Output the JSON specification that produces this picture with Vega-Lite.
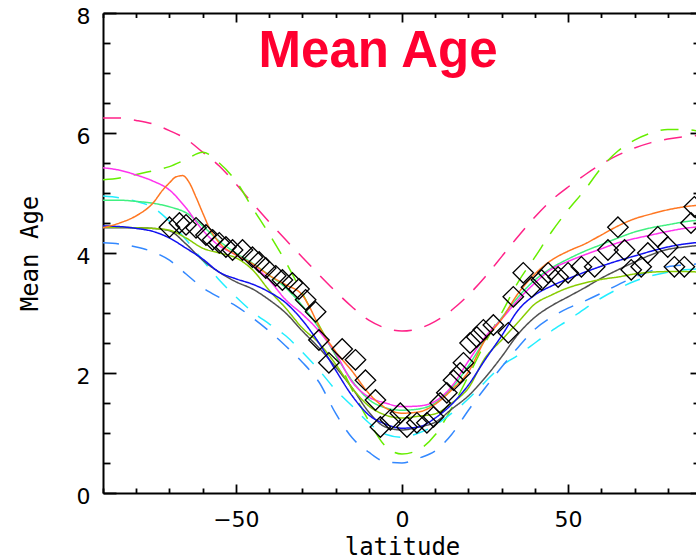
{
"$schema": "https://vega.github.io/schema/vega-lite/v6.json",
"width": 593, "height": 480,
"autosize": {"type": "none"},
"padding": {"left": 103, "top": 13, "right": 0, "bottom": 66},
"background": "white",
"config": {"view": {"stroke": null}, "axis": {"grid": false, "domainColor": "black", "tickColor": "black", "labelColor": "black", "titleColor": "black", "domainWidth": 2, "tickWidth": 1.8, "labelOverlap": false, "labelFlush": false, "labelBound": false}},
"datasets": {
"lines": [
{"s":"pd","lat":-90,"v":6.25},{"s":"pd","lat":-85,"v":6.25},{"s":"pd","lat":-80,"v":6.21},{"s":"pd","lat":-75,"v":6.15},{"s":"pd","lat":-70,"v":6.04},{"s":"pd","lat":-65,"v":5.9},{"s":"pd","lat":-60,"v":5.68},{"s":"pd","lat":-55,"v":5.45},{"s":"pd","lat":-50,"v":5.15},{"s":"pd","lat":-45,"v":4.83},{"s":"pd","lat":-40,"v":4.52},{"s":"pd","lat":-35,"v":4.22},{"s":"pd","lat":-30,"v":3.93},{"s":"pd","lat":-25,"v":3.64},{"s":"pd","lat":-20,"v":3.36},{"s":"pd","lat":-15,"v":3.1},{"s":"pd","lat":-10,"v":2.88},{"s":"pd","lat":-5,"v":2.75},{"s":"pd","lat":0,"v":2.7},{"s":"pd","lat":5,"v":2.74},{"s":"pd","lat":10,"v":2.86},{"s":"pd","lat":15,"v":3.05},{"s":"pd","lat":20,"v":3.3},{"s":"pd","lat":25,"v":3.6},{"s":"pd","lat":30,"v":3.94},{"s":"pd","lat":35,"v":4.28},{"s":"pd","lat":40,"v":4.6},{"s":"pd","lat":45,"v":4.88},{"s":"pd","lat":50,"v":5.1},{"s":"pd","lat":55,"v":5.3},{"s":"pd","lat":60,"v":5.48},{"s":"pd","lat":65,"v":5.63},{"s":"pd","lat":70,"v":5.75},{"s":"pd","lat":75,"v":5.84},{"s":"pd","lat":80,"v":5.9},{"s":"pd","lat":85,"v":5.94},{"s":"pd","lat":90,"v":5.96},
{"s":"gd","lat":-90,"v":5.22},{"s":"gd","lat":-85,"v":5.25},{"s":"gd","lat":-80,"v":5.31},{"s":"gd","lat":-75,"v":5.37},{"s":"gd","lat":-70,"v":5.44},{"s":"gd","lat":-65,"v":5.56},{"s":"gd","lat":-60,"v":5.68},{"s":"gd","lat":-55,"v":5.5},{"s":"gd","lat":-50,"v":5.2},{"s":"gd","lat":-45,"v":4.75},{"s":"gd","lat":-40,"v":4.32},{"s":"gd","lat":-35,"v":3.85},{"s":"gd","lat":-30,"v":3.33},{"s":"gd","lat":-25,"v":2.8},{"s":"gd","lat":-20,"v":2.3},{"s":"gd","lat":-15,"v":1.72},{"s":"gd","lat":-10,"v":1.2},{"s":"gd","lat":-5,"v":0.78},{"s":"gd","lat":0,"v":0.65},{"s":"gd","lat":5,"v":0.72},{"s":"gd","lat":10,"v":0.97},{"s":"gd","lat":15,"v":1.42},{"s":"gd","lat":20,"v":1.95},{"s":"gd","lat":25,"v":2.5},{"s":"gd","lat":30,"v":3.0},{"s":"gd","lat":35,"v":3.52},{"s":"gd","lat":40,"v":3.93},{"s":"gd","lat":45,"v":4.35},{"s":"gd","lat":50,"v":4.72},{"s":"gd","lat":55,"v":5.05},{"s":"gd","lat":60,"v":5.42},{"s":"gd","lat":65,"v":5.7},{"s":"gd","lat":70,"v":5.88},{"s":"gd","lat":75,"v":6.0},{"s":"gd","lat":80,"v":6.06},{"s":"gd","lat":85,"v":6.06},{"s":"gd","lat":90,"v":6.02},
{"s":"cd","lat":-90,"v":4.95},{"s":"cd","lat":-85,"v":4.92},{"s":"cd","lat":-80,"v":4.86},{"s":"cd","lat":-75,"v":4.76},{"s":"cd","lat":-70,"v":4.53},{"s":"cd","lat":-65,"v":4.22},{"s":"cd","lat":-60,"v":3.88},{"s":"cd","lat":-55,"v":3.55},{"s":"cd","lat":-50,"v":3.27},{"s":"cd","lat":-45,"v":3.02},{"s":"cd","lat":-40,"v":2.82},{"s":"cd","lat":-35,"v":2.62},{"s":"cd","lat":-30,"v":2.35},{"s":"cd","lat":-25,"v":2.05},{"s":"cd","lat":-20,"v":1.72},{"s":"cd","lat":-15,"v":1.45},{"s":"cd","lat":-10,"v":1.17},{"s":"cd","lat":-5,"v":0.98},{"s":"cd","lat":0,"v":0.93},{"s":"cd","lat":5,"v":1.0},{"s":"cd","lat":10,"v":1.13},{"s":"cd","lat":15,"v":1.33},{"s":"cd","lat":20,"v":1.57},{"s":"cd","lat":25,"v":1.85},{"s":"cd","lat":30,"v":2.12},{"s":"cd","lat":35,"v":2.3},{"s":"cd","lat":40,"v":2.5},{"s":"cd","lat":45,"v":2.7},{"s":"cd","lat":50,"v":2.88},{"s":"cd","lat":55,"v":3.07},{"s":"cd","lat":60,"v":3.25},{"s":"cd","lat":65,"v":3.4},{"s":"cd","lat":70,"v":3.53},{"s":"cd","lat":75,"v":3.62},{"s":"cd","lat":80,"v":3.68},{"s":"cd","lat":85,"v":3.72},{"s":"cd","lat":90,"v":3.74},
{"s":"bd","lat":-90,"v":4.17},{"s":"bd","lat":-85,"v":4.15},{"s":"bd","lat":-80,"v":4.1},{"s":"bd","lat":-75,"v":4.02},{"s":"bd","lat":-70,"v":3.88},{"s":"bd","lat":-65,"v":3.65},{"s":"bd","lat":-60,"v":3.42},{"s":"bd","lat":-55,"v":3.26},{"s":"bd","lat":-50,"v":3.12},{"s":"bd","lat":-45,"v":2.92},{"s":"bd","lat":-40,"v":2.7},{"s":"bd","lat":-35,"v":2.45},{"s":"bd","lat":-30,"v":2.18},{"s":"bd","lat":-25,"v":1.85},{"s":"bd","lat":-20,"v":1.33},{"s":"bd","lat":-15,"v":0.92},{"s":"bd","lat":-10,"v":0.68},{"s":"bd","lat":-5,"v":0.52},{"s":"bd","lat":0,"v":0.5},{"s":"bd","lat":5,"v":0.58},{"s":"bd","lat":10,"v":0.7},{"s":"bd","lat":15,"v":0.98},{"s":"bd","lat":20,"v":1.38},{"s":"bd","lat":25,"v":1.75},{"s":"bd","lat":30,"v":2.1},{"s":"bd","lat":35,"v":2.43},{"s":"bd","lat":40,"v":2.73},{"s":"bd","lat":45,"v":2.93},{"s":"bd","lat":50,"v":3.08},{"s":"bd","lat":55,"v":3.2},{"s":"bd","lat":60,"v":3.33},{"s":"bd","lat":65,"v":3.47},{"s":"bd","lat":70,"v":3.6},{"s":"bd","lat":75,"v":3.7},{"s":"bd","lat":80,"v":3.77},{"s":"bd","lat":85,"v":3.8},{"s":"bd","lat":90,"v":3.82},
{"s":"gy","lat":-90,"v":4.42},{"s":"gy","lat":-85,"v":4.42},{"s":"gy","lat":-80,"v":4.42},{"s":"gy","lat":-75,"v":4.41},{"s":"gy","lat":-70,"v":4.37},{"s":"gy","lat":-65,"v":4.15},{"s":"gy","lat":-60,"v":3.88},{"s":"gy","lat":-55,"v":3.68},{"s":"gy","lat":-50,"v":3.52},{"s":"gy","lat":-45,"v":3.4},{"s":"gy","lat":-40,"v":3.22},{"s":"gy","lat":-35,"v":3.0},{"s":"gy","lat":-30,"v":2.7},{"s":"gy","lat":-25,"v":2.42},{"s":"gy","lat":-20,"v":2.1},{"s":"gy","lat":-15,"v":1.75},{"s":"gy","lat":-10,"v":1.35},{"s":"gy","lat":-5,"v":1.1},{"s":"gy","lat":0,"v":1.05},{"s":"gy","lat":5,"v":1.1},{"s":"gy","lat":10,"v":1.18},{"s":"gy","lat":15,"v":1.4},{"s":"gy","lat":20,"v":1.62},{"s":"gy","lat":25,"v":1.92},{"s":"gy","lat":30,"v":2.27},{"s":"gy","lat":35,"v":2.65},{"s":"gy","lat":40,"v":2.93},{"s":"gy","lat":45,"v":3.12},{"s":"gy","lat":50,"v":3.27},{"s":"gy","lat":55,"v":3.42},{"s":"gy","lat":60,"v":3.58},{"s":"gy","lat":65,"v":3.72},{"s":"gy","lat":70,"v":3.85},{"s":"gy","lat":75,"v":3.97},{"s":"gy","lat":80,"v":4.06},{"s":"gy","lat":85,"v":4.1},{"s":"gy","lat":90,"v":4.13},
{"s":"ol","lat":-90,"v":4.43},{"s":"ol","lat":-85,"v":4.43},{"s":"ol","lat":-80,"v":4.42},{"s":"ol","lat":-75,"v":4.41},{"s":"ol","lat":-70,"v":4.38},{"s":"ol","lat":-65,"v":4.25},{"s":"ol","lat":-60,"v":4.08},{"s":"ol","lat":-55,"v":4.0},{"s":"ol","lat":-50,"v":3.92},{"s":"ol","lat":-45,"v":3.72},{"s":"ol","lat":-40,"v":3.38},{"s":"ol","lat":-35,"v":3.08},{"s":"ol","lat":-30,"v":2.75},{"s":"ol","lat":-25,"v":2.5},{"s":"ol","lat":-20,"v":2.15},{"s":"ol","lat":-15,"v":1.75},{"s":"ol","lat":-10,"v":1.45},{"s":"ol","lat":-5,"v":1.3},{"s":"ol","lat":0,"v":1.25},{"s":"ol","lat":5,"v":1.28},{"s":"ol","lat":10,"v":1.32},{"s":"ol","lat":15,"v":1.5},{"s":"ol","lat":20,"v":1.75},{"s":"ol","lat":25,"v":2.25},{"s":"ol","lat":30,"v":2.55},{"s":"ol","lat":35,"v":2.85},{"s":"ol","lat":40,"v":3.15},{"s":"ol","lat":45,"v":3.3},{"s":"ol","lat":50,"v":3.42},{"s":"ol","lat":55,"v":3.5},{"s":"ol","lat":60,"v":3.56},{"s":"ol","lat":65,"v":3.6},{"s":"ol","lat":70,"v":3.65},{"s":"ol","lat":75,"v":3.68},{"s":"ol","lat":80,"v":3.69},{"s":"ol","lat":85,"v":3.69},{"s":"ol","lat":90,"v":3.68},
{"s":"bl","lat":-90,"v":4.45},{"s":"bl","lat":-85,"v":4.44},{"s":"bl","lat":-80,"v":4.41},{"s":"bl","lat":-75,"v":4.36},{"s":"bl","lat":-70,"v":4.25},{"s":"bl","lat":-65,"v":4.08},{"s":"bl","lat":-60,"v":3.9},{"s":"bl","lat":-55,"v":3.68},{"s":"bl","lat":-50,"v":3.57},{"s":"bl","lat":-45,"v":3.48},{"s":"bl","lat":-40,"v":3.35},{"s":"bl","lat":-35,"v":3.17},{"s":"bl","lat":-30,"v":2.88},{"s":"bl","lat":-25,"v":2.5},{"s":"bl","lat":-20,"v":2.05},{"s":"bl","lat":-15,"v":1.62},{"s":"bl","lat":-10,"v":1.3},{"s":"bl","lat":-5,"v":1.15},{"s":"bl","lat":0,"v":1.08},{"s":"bl","lat":5,"v":1.1},{"s":"bl","lat":10,"v":1.25},{"s":"bl","lat":15,"v":1.48},{"s":"bl","lat":20,"v":1.8},{"s":"bl","lat":25,"v":2.22},{"s":"bl","lat":30,"v":2.62},{"s":"bl","lat":35,"v":3.05},{"s":"bl","lat":40,"v":3.3},{"s":"bl","lat":45,"v":3.45},{"s":"bl","lat":50,"v":3.57},{"s":"bl","lat":55,"v":3.68},{"s":"bl","lat":60,"v":3.78},{"s":"bl","lat":65,"v":3.87},{"s":"bl","lat":70,"v":3.95},{"s":"bl","lat":75,"v":4.03},{"s":"bl","lat":80,"v":4.1},{"s":"bl","lat":85,"v":4.15},{"s":"bl","lat":90,"v":4.18},
{"s":"sg","lat":-90,"v":4.88},{"s":"sg","lat":-85,"v":4.88},{"s":"sg","lat":-80,"v":4.86},{"s":"sg","lat":-75,"v":4.83},{"s":"sg","lat":-70,"v":4.77},{"s":"sg","lat":-65,"v":4.67},{"s":"sg","lat":-60,"v":4.45},{"s":"sg","lat":-55,"v":4.2},{"s":"sg","lat":-50,"v":4.0},{"s":"sg","lat":-45,"v":3.83},{"s":"sg","lat":-40,"v":3.63},{"s":"sg","lat":-35,"v":3.42},{"s":"sg","lat":-30,"v":3.12},{"s":"sg","lat":-25,"v":2.75},{"s":"sg","lat":-20,"v":2.3},{"s":"sg","lat":-15,"v":1.87},{"s":"sg","lat":-10,"v":1.56},{"s":"sg","lat":-5,"v":1.42},{"s":"sg","lat":0,"v":1.38},{"s":"sg","lat":5,"v":1.4},{"s":"sg","lat":10,"v":1.5},{"s":"sg","lat":15,"v":1.75},{"s":"sg","lat":20,"v":2.12},{"s":"sg","lat":25,"v":2.55},{"s":"sg","lat":30,"v":2.92},{"s":"sg","lat":35,"v":3.27},{"s":"sg","lat":40,"v":3.55},{"s":"sg","lat":45,"v":3.75},{"s":"sg","lat":50,"v":3.9},{"s":"sg","lat":55,"v":4.03},{"s":"sg","lat":60,"v":4.14},{"s":"sg","lat":65,"v":4.25},{"s":"sg","lat":70,"v":4.35},{"s":"sg","lat":75,"v":4.42},{"s":"sg","lat":80,"v":4.47},{"s":"sg","lat":85,"v":4.52},{"s":"sg","lat":90,"v":4.55},
{"s":"mg","lat":-90,"v":5.42},{"s":"mg","lat":-85,"v":5.38},{"s":"mg","lat":-80,"v":5.3},{"s":"mg","lat":-75,"v":5.2},{"s":"mg","lat":-70,"v":5.05},{"s":"mg","lat":-65,"v":4.75},{"s":"mg","lat":-60,"v":4.38},{"s":"mg","lat":-55,"v":4.12},{"s":"mg","lat":-50,"v":3.97},{"s":"mg","lat":-45,"v":3.8},{"s":"mg","lat":-40,"v":3.55},{"s":"mg","lat":-35,"v":3.22},{"s":"mg","lat":-30,"v":2.98},{"s":"mg","lat":-25,"v":2.7},{"s":"mg","lat":-20,"v":2.33},{"s":"mg","lat":-15,"v":1.85},{"s":"mg","lat":-10,"v":1.6},{"s":"mg","lat":-5,"v":1.5},{"s":"mg","lat":0,"v":1.44},{"s":"mg","lat":5,"v":1.45},{"s":"mg","lat":10,"v":1.53},{"s":"mg","lat":15,"v":1.78},{"s":"mg","lat":20,"v":2.2},{"s":"mg","lat":25,"v":2.6},{"s":"mg","lat":30,"v":2.9},{"s":"mg","lat":35,"v":3.22},{"s":"mg","lat":40,"v":3.5},{"s":"mg","lat":45,"v":3.73},{"s":"mg","lat":50,"v":3.86},{"s":"mg","lat":55,"v":3.97},{"s":"mg","lat":60,"v":4.07},{"s":"mg","lat":65,"v":4.17},{"s":"mg","lat":70,"v":4.24},{"s":"mg","lat":75,"v":4.3},{"s":"mg","lat":80,"v":4.36},{"s":"mg","lat":85,"v":4.41},{"s":"mg","lat":90,"v":4.44},
{"s":"or","lat":-90,"v":4.42},{"s":"or","lat":-85,"v":4.5},{"s":"or","lat":-80,"v":4.62},{"s":"or","lat":-75,"v":4.83},{"s":"or","lat":-72,"v":5.05},{"s":"or","lat":-70,"v":5.17},{"s":"or","lat":-68,"v":5.27},{"s":"or","lat":-66,"v":5.29},{"s":"or","lat":-64,"v":5.17},{"s":"or","lat":-62,"v":4.93},{"s":"or","lat":-60,"v":4.67},{"s":"or","lat":-58,"v":4.42},{"s":"or","lat":-55,"v":4.17},{"s":"or","lat":-50,"v":3.97},{"s":"or","lat":-45,"v":3.82},{"s":"or","lat":-40,"v":3.63},{"s":"or","lat":-35,"v":3.47},{"s":"or","lat":-30,"v":3.3},{"s":"or","lat":-28,"v":3.12},{"s":"or","lat":-25,"v":2.78},{"s":"or","lat":-20,"v":2.36},{"s":"or","lat":-15,"v":2.03},{"s":"or","lat":-10,"v":1.66},{"s":"or","lat":-5,"v":1.42},{"s":"or","lat":0,"v":1.33},{"s":"or","lat":5,"v":1.35},{"s":"or","lat":10,"v":1.48},{"s":"or","lat":15,"v":1.72},{"s":"or","lat":20,"v":2.02},{"s":"or","lat":25,"v":2.55},{"s":"or","lat":30,"v":2.9},{"s":"or","lat":35,"v":3.33},{"s":"or","lat":40,"v":3.65},{"s":"or","lat":45,"v":3.88},{"s":"or","lat":50,"v":4.03},{"s":"or","lat":55,"v":4.15},{"s":"or","lat":60,"v":4.3},{"s":"or","lat":65,"v":4.45},{"s":"or","lat":70,"v":4.57},{"s":"or","lat":75,"v":4.65},{"s":"or","lat":80,"v":4.72},{"s":"or","lat":85,"v":4.77},{"s":"or","lat":90,"v":4.8}
],
"obs": [
{"lat":-70,"v":4.43},{"lat":-67,"v":4.5},{"lat":-65,"v":4.47},{"lat":-62,"v":4.42},{"lat":-59,"v":4.3},{"lat":-57,"v":4.22},{"lat":-55,"v":4.17},{"lat":-53,"v":4.1},{"lat":-51,"v":4.05},{"lat":-48,"v":4.05},{"lat":-45,"v":3.93},{"lat":-43,"v":3.85},{"lat":-41,"v":3.75},{"lat":-38,"v":3.62},{"lat":-36,"v":3.55},{"lat":-33,"v":3.5},{"lat":-31,"v":3.4},{"lat":-29,"v":3.22},{"lat":-26,"v":3.02},{"lat":-25,"v":2.55},{"lat":-22,"v":2.17},{"lat":-18,"v":2.4},{"lat":-14,"v":2.22},{"lat":-11,"v":1.88},{"lat":-8,"v":1.55},{"lat":-6.5,"v":1.1},{"lat":-3.5,"v":1.22},{"lat":-0.5,"v":1.33},{"lat":1.5,"v":1.1},{"lat":4.5,"v":1.17},{"lat":7.5,"v":1.17},{"lat":9.5,"v":1.27},{"lat":11.5,"v":1.5},{"lat":13.5,"v":1.67},{"lat":15.5,"v":1.88},{"lat":17.5,"v":2.0},{"lat":18.5,"v":2.17},{"lat":20.5,"v":2.5},{"lat":22.5,"v":2.6},{"lat":24.5,"v":2.72},{"lat":27.5,"v":2.8},{"lat":32,"v":2.67},{"lat":33.5,"v":3.27},{"lat":36.5,"v":3.67},{"lat":39,"v":3.43},{"lat":42,"v":3.55},{"lat":44,"v":3.67},{"lat":47,"v":3.6},{"lat":50,"v":3.67},{"lat":54,"v":3.77},{"lat":58,"v":3.77},{"lat":62,"v":4.05},{"lat":65,"v":4.43},{"lat":67,"v":4.05},{"lat":69,"v":3.72},{"lat":72,"v":3.77},{"lat":74,"v":4.0},{"lat":77,"v":4.27},{"lat":80,"v":4.1},{"lat":82,"v":3.77},{"lat":85,"v":3.77},{"lat":87,"v":4.5},{"lat":88,"v":4.77}
]
},
"layer": [
{
"data": {"name": "lines"},
"mark": {"type": "line", "strokeWidth": 1.5, "clip": true, "interpolate": "monotone"},
"encoding": {
"x": {"field": "lat", "type": "quantitative", "scale": {"domain": [-90, 88.5], "nice": false, "zero": false},
 "axis": {"orient": "bottom", "values": [-90,-80,-70,-60,-50,-40,-30,-20,-10,0,10,20,30,40,50,60,70,80,90],
  "labelExpr": "datum.value % 50 === 0 ? datum.label : ''",
  "tickSize": {"condition": {"test": "datum.value % 50 === 0", "value": -9}, "value": -5},
  "labelFont": "DejaVu Sans", "labelFontSize": 22, "labelPadding": 25.6,
  "title": "latitude", "titleFont": "DejaVu Sans Mono", "titleFontSize": 24, "titleFontWeight": "normal",
  "titleX": 299, "titleY": 61, "titleBaseline": "alphabetic", "titleAlign": "center"}},
"y": {"field": "v", "type": "quantitative", "scale": {"domain": [0, 8], "nice": false, "zero": false},
 "axis": {"orient": "left", "values": [0,0.5,1,1.5,2,2.5,3,3.5,4,4.5,5,5.5,6,6.5,7,7.5,8],
  "labelExpr": "datum.value % 2 === 0 ? format(datum.value, 'd') : ''",
  "tickSize": {"condition": {"test": "datum.value % 2 === 0", "value": -13}, "value": -7},
  "labelFont": "DejaVu Sans", "labelFontSize": 22, "labelPadding": 26, "labelOffset": 3,
  "title": "Mean Age", "titleFont": "DejaVu Sans Mono", "titleFontSize": 24, "titleFontWeight": "normal",
  "titleX": -66, "titleY": 240, "titleAngle": 270, "titleBaseline": "alphabetic", "titleAlign": "center"}},
"color": {"field": "s", "type": "nominal", "legend": null,
 "scale": {"domain": ["pd","gd","cd","bd","gy","ol","bl","sg","mg","or"],
  "range": ["#ff2288","#66ee00","#22eeff","#3388ff","#505050","#88cc00","#1010f0","#40f080","#ff33ee","#ff7722"]}},
"strokeDash": {"field": "s", "type": "nominal", "legend": null,
 "scale": {"domain": ["pd","gd","cd","bd","gy","ol","bl","sg","mg","or"],
  "range": [[18,13],[18,13],[16,13],[16,13],[1,0],[1,0],[1,0],[1,0],[1,0],[1,0]]}}
}
},
{
"data": {"name": "obs"},
"mark": {"type": "point", "shape": "diamond", "size": 420, "filled": false, "stroke": "black", "strokeWidth": 1.3, "opacity": 1, "clip": true},
"encoding": {
"x": {"field": "lat", "type": "quantitative",
 "axis": {"orient": "top", "values": [-90,-80,-70,-60,-50,-40,-30,-20,-10,0,10,20,30,40,50,60,70,80,90], "labels": false, "title": null,
  "tickSize": {"condition": {"test": "datum.value % 50 === 0", "value": -9}, "value": -4.5}}},
"y": {"field": "v", "type": "quantitative",
 "axis": {"orient": "right", "values": [0,0.5,1,1.5,2,2.5,3,3.5,4,4.5,5,5.5,6,6.5,7,7.5,8], "labels": false, "title": null, "domain": false,
  "tickSize": {"condition": {"test": "datum.value % 2 === 0", "value": -6}, "value": -3}}}
}
},
{
"data": {"values": [{"label": "Mean Age"}]},
"mark": {"type": "text", "font": "Liberation Sans", "fontWeight": "bold", "fontSize": 51, "color": "#ff0030", "align": "center", "baseline": "alphabetic"},
"encoding": {
"text": {"field": "label", "type": "nominal"},
"x": {"datum": -7.2, "type": "quantitative", "axis": null},
"y": {"datum": 7.1, "type": "quantitative", "axis": null}
}
}
],
"resolve": {"axis": {"x": "independent", "y": "independent"}}
}
